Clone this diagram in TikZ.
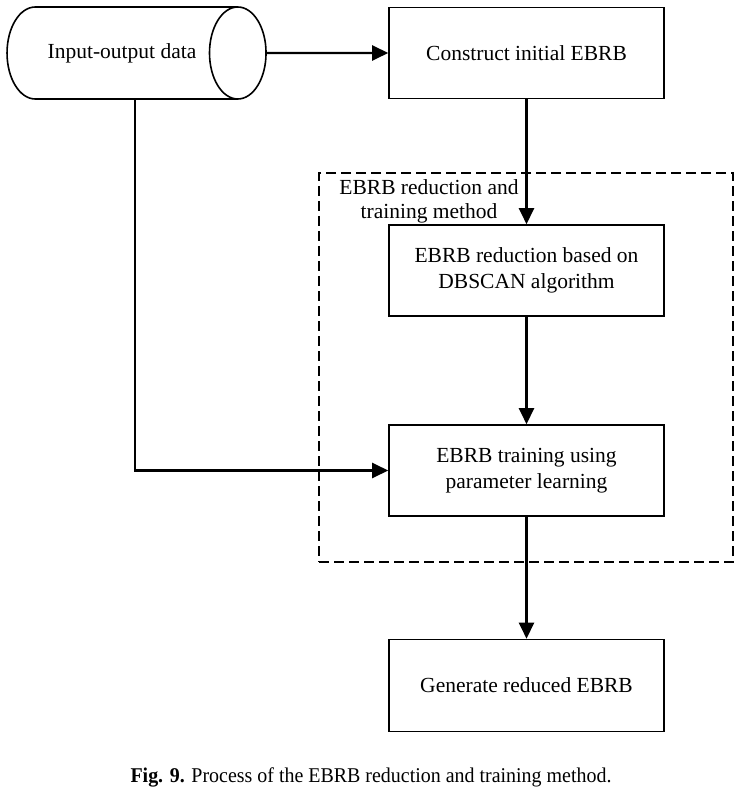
\documentclass[tikz,border=0pt]{standalone}
\usepackage{fontspec}
\setmainfont{Liberation Serif}
\newfontfamily\capfont[FakeStretch=0.95]{Liberation Serif}
\usetikzlibrary{shapes.geometric,arrows.meta}
\begin{document}
\begin{tikzpicture}[x=1pt,y=-1pt]
    \tikzstyle{every node}+=[font=\fontsize{21.5}{26}\selectfont, align=center, inner sep=0pt]
    \tikzstyle{block}=[draw, line width=1.6pt, minimum width=275pt, minimum height=91pt]
    \tikzstyle{link}=[line width=2.4pt, -{Triangle[length=16pt,width=15pt]}]
    \useasboundingbox (0,0) rectangle (744,791);
    \node [cylinder, draw, line width=1.6pt, aspect=2.9, minimum width=92pt, minimum height=259pt] (data) at (122,53) {Input-output data};
    \node [block] (construct) at (526.5,53) {Construct initial EBRB};
    \node [draw, dash pattern=on 10pt off 5pt, line width=1.6pt, minimum width=414pt, minimum height=389pt] (frame) at (526,367.5) {};
    \node [font=\fontsize{21.5}{24}\selectfont] (frametitle) at (429,201) {EBRB reduction and\\training method};
    \node [block] (reduce) at (526.5,270.5) {EBRB reduction based on\\DBSCAN algorithm};
    \node [block] (train) at (526.5,470.5) {EBRB training using\\parameter learning};
    \node [block, minimum height=92pt] (generate) at (526.5,685.5) {Generate reduced EBRB};
    \draw [link] (data.east) -- (construct.west);
    \draw [link] (construct.south) -- (reduce.north);
    \draw [link] (reduce.south) -- (train.north);
    \draw [link] ([xshift=13pt]data.south) |- (train.west);
    \draw [link] (train.south) -- (generate.north);
    \node [anchor=base] (caption) at (371,782) {\capfont\fontsize{21}{25}\selectfont\textbf{Fig. 9.} Process of the EBRB reduction and training method.};
\end{tikzpicture}
\end{document}
